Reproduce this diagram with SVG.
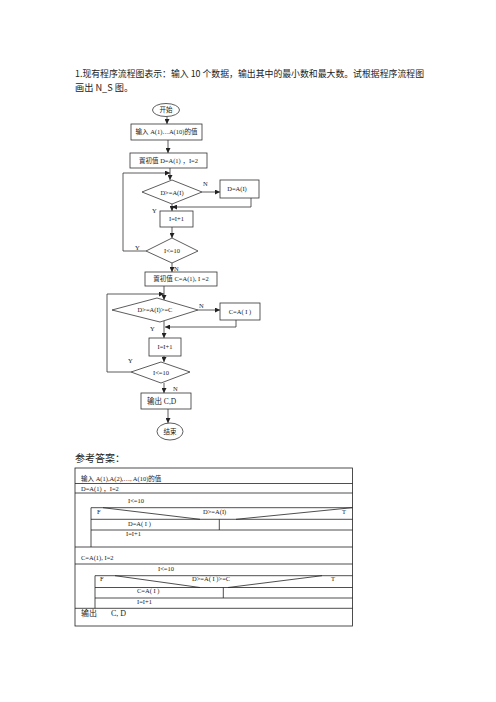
<svg xmlns="http://www.w3.org/2000/svg" width="496" height="702" viewBox="0 0 496 702">
<style>
.t{font-family:"Liberation Serif","Noto Sans CJK SC",serif;font-size:6.5px;fill:#222}
.h{font-family:"Noto Sans CJK SC",sans-serif;font-size:9.2px;fill:#222}
.s{fill:#fff;stroke:#333;stroke-width:0.8}
.l{fill:none;stroke:#333;stroke-width:0.8}
.ns{fill:none;stroke:#222;stroke-width:0.8}
</style>
<defs>
<marker id="a" viewBox="0 0 8 8" refX="8" refY="4" markerWidth="5" markerHeight="5" orient="auto" markerUnits="userSpaceOnUse">
<path d="M0,0 L8,4 L0,8 z" fill="#222"/>
</marker>
</defs>
<rect width="496" height="702" fill="#fff"/>
<g id="header">
<text class="h" x="75" y="77" textLength="349" lengthAdjust="spacingAndGlyphs">1.现有程序流程图表示：输入 10 个数据，输出其中的最小数和最大数。试根据程序流程图</text>
<text class="h" x="75" y="91">画出 N_S 图。</text>
</g>
<g id="connectors">
<line class="l" x1="167" y1="116.5" x2="167" y2="124" marker-end="url(#a)"/>
<line class="l" x1="168" y1="140" x2="168" y2="153" marker-end="url(#a)"/>
<line class="l" x1="170" y1="168" x2="170" y2="180" marker-end="url(#a)"/>
<line class="l" x1="202" y1="192" x2="220" y2="192" marker-end="url(#a)"/>
<polyline class="l" points="251,198 251,207 172,207" marker-end="url(#a)"/>
<line class="l" x1="172" y1="204" x2="172" y2="211" marker-end="url(#a)"/>
<line class="l" x1="172" y1="227" x2="172" y2="238" marker-end="url(#a)"/>
<polyline class="l" points="146,251 123,251 123,173 170,173" marker-end="url(#a)"/>
<line class="l" x1="172" y1="263" x2="172" y2="272" marker-end="url(#a)"/>
<line class="l" x1="164" y1="286" x2="164" y2="300" marker-end="url(#a)"/>
<polyline class="l" points="131,372 107,372 107,294 164,294" marker-end="url(#a)"/>
<line class="l" x1="198" y1="310" x2="220" y2="310" marker-end="url(#a)"/>
<polyline class="l" points="236,320 236,327 165,327" marker-end="url(#a)"/>
<line class="l" x1="164" y1="321" x2="164" y2="338" marker-end="url(#a)"/>
<line class="l" x1="164" y1="356" x2="164" y2="362" marker-end="url(#a)"/>
<line class="l" x1="164" y1="383" x2="164" y2="393" marker-end="url(#a)"/>
<line class="l" x1="168" y1="409" x2="168" y2="423" marker-end="url(#a)"/>
<text class="t" x="203" y="186">N</text>
<text class="t" x="152" y="213">Y</text>
<text class="t" x="135" y="250">Y</text>
<text class="t" x="174" y="271">N</text>
<text class="t" x="199" y="308">N</text>
<text class="t" x="150" y="331">Y</text>
<text class="t" x="128" y="363">Y</text>
<text class="t" x="173" y="391">N</text>
</g>
<g id="start">
<ellipse class="s" cx="166" cy="110" rx="13.5" ry="6.5"/>
<text class="t" x="166" y="112.3" text-anchor="middle">开始</text>
</g>
<g id="input">
<rect class="s" x="131" y="124" width="71" height="16"/>
<text class="t" x="166.5" y="134.3" text-anchor="middle">输入 A(1)…A(10)的值</text>
</g>
<g id="init1">
<rect class="s" x="130" y="153" width="77" height="15"/>
<text class="t" x="168.5" y="162.8" text-anchor="middle">置初值 D=A(1) ，I=2</text>
</g>
<g id="cond1">
<polygon class="s" points="142,192 172,180 202,192 172,204"/>
<text class="t" x="172" y="194.5" text-anchor="middle">D&gt;=A(I)</text>
</g>
<g id="assignD">
<rect class="s" x="220" y="180" width="39" height="18"/>
<text class="t" x="237" y="191" text-anchor="middle">D=A(I)</text>
</g>
<g id="inc1">
<rect class="s" x="160" y="211" width="33" height="16"/>
<text class="t" x="176.5" y="221.3" text-anchor="middle">I=I+1</text>
</g>
<g id="loop1">
<polygon class="s" points="146,251 172,238 198,251 172,263"/>
<text class="t" x="172" y="253.3" text-anchor="middle">I&lt;=10</text>
</g>
<g id="init2">
<rect class="s" x="145" y="272" width="72" height="14"/>
<text class="t" x="181" y="281.3" text-anchor="middle">置初值 C=A(1),   I =2</text>
</g>
<g id="cond2">
<polygon class="s" points="112,310 157,298 198,310 160,322"/>
<text class="t" x="155" y="312.3" text-anchor="middle">D&gt;=A(I)&gt;=C</text>
</g>
<g id="assignC">
<rect class="s" x="220" y="303" width="40" height="17"/>
<text class="t" x="240" y="313.8" text-anchor="middle">C=A( I )</text>
</g>
<g id="inc2">
<rect class="s" x="149" y="338" width="32" height="18"/>
<text class="t" x="165" y="349.3" text-anchor="middle">I=I+1</text>
</g>
<g id="loop2">
<polygon class="s" points="131,372 161,362 190,372 161,383"/>
<text class="t" x="161" y="374.5" text-anchor="middle">I&lt;=10</text>
</g>
<g id="output">
<rect class="s" x="141" y="393" width="50" height="16"/>
<text class="t" x="147" y="403.5" style="font-size:7.5px">输出 C,D</text>
</g>
<g id="end">
<ellipse class="s" cx="170" cy="431.5" rx="13" ry="8.5"/>
<text class="t" x="170" y="433.8" text-anchor="middle">结束</text>
</g>
<g id="answer">
<text class="h" x="75" y="462" style="font-size:10px">参考答案：</text>
<rect class="ns" x="75" y="468" width="277.5" height="158"/>
<line class="ns" x1="75" y1="483.5" x2="352.5" y2="483.5"/>
<line class="ns" x1="75" y1="493" x2="352.5" y2="493"/>
<line class="ns" x1="91" y1="507.7" x2="352.5" y2="507.7"/>
<line class="ns" x1="91" y1="519.3" x2="352.5" y2="519.3"/>
<line class="ns" x1="91" y1="530" x2="352.5" y2="530"/>
<line class="ns" x1="75" y1="547" x2="352.5" y2="547"/>
<line class="ns" x1="75" y1="564" x2="352.5" y2="564"/>
<line class="ns" x1="95" y1="575.7" x2="352.5" y2="575.7"/>
<line class="ns" x1="95" y1="587.5" x2="352.5" y2="587.5"/>
<line class="ns" x1="95" y1="598" x2="352.5" y2="598"/>
<line class="ns" x1="75" y1="608.3" x2="352.5" y2="608.3"/>
<line class="ns" x1="91" y1="507.7" x2="91" y2="547"/>
<line class="ns" x1="95" y1="575.7" x2="95" y2="608.3"/>
<line class="ns" x1="219.3" y1="519.3" x2="219.3" y2="530"/>
<line class="ns" x1="223.3" y1="587.5" x2="223.3" y2="598"/>
<line class="ns" x1="103" y1="507.7" x2="200" y2="519.3"/>
<line class="ns" x1="236" y1="519.3" x2="352" y2="507.7"/>
<line class="ns" x1="115" y1="575.7" x2="200" y2="587.5"/>
<line class="ns" x1="228" y1="587.5" x2="322" y2="575.7"/>
<text class="t" x="81" y="480.5">输入 A(1),A(2),…, A(10)的值</text>
<text class="t" x="81" y="491">D=A(1)   ，I=2</text>
<text class="t" x="128" y="502.5">I&lt;=10</text>
<text class="t" x="97" y="513.5">F</text>
<text class="t" x="203" y="513.5">D&gt;=A(I)</text>
<text class="t" x="342" y="513.5">T</text>
<text class="t" x="128" y="525.5">D=A( I )</text>
<text class="t" x="126" y="536">I=I+1</text>
<text class="t" x="81" y="559.5">C=A(1),   I=2</text>
<text class="t" x="158" y="570.5">I&lt;=10</text>
<text class="t" x="100" y="580.5">F</text>
<text class="t" x="192" y="580.5">D&gt;=A( I )&gt;=C</text>
<text class="t" x="331" y="580.5">T</text>
<text class="t" x="137" y="593">C=A( I )</text>
<text class="t" x="137" y="604">I=I+1</text>
<text class="t" x="81" y="615.5" style="font-size:8px">输出</text>
<text class="t" x="111" y="615.5" style="font-size:8px">C, D</text>
</g>
</svg>
